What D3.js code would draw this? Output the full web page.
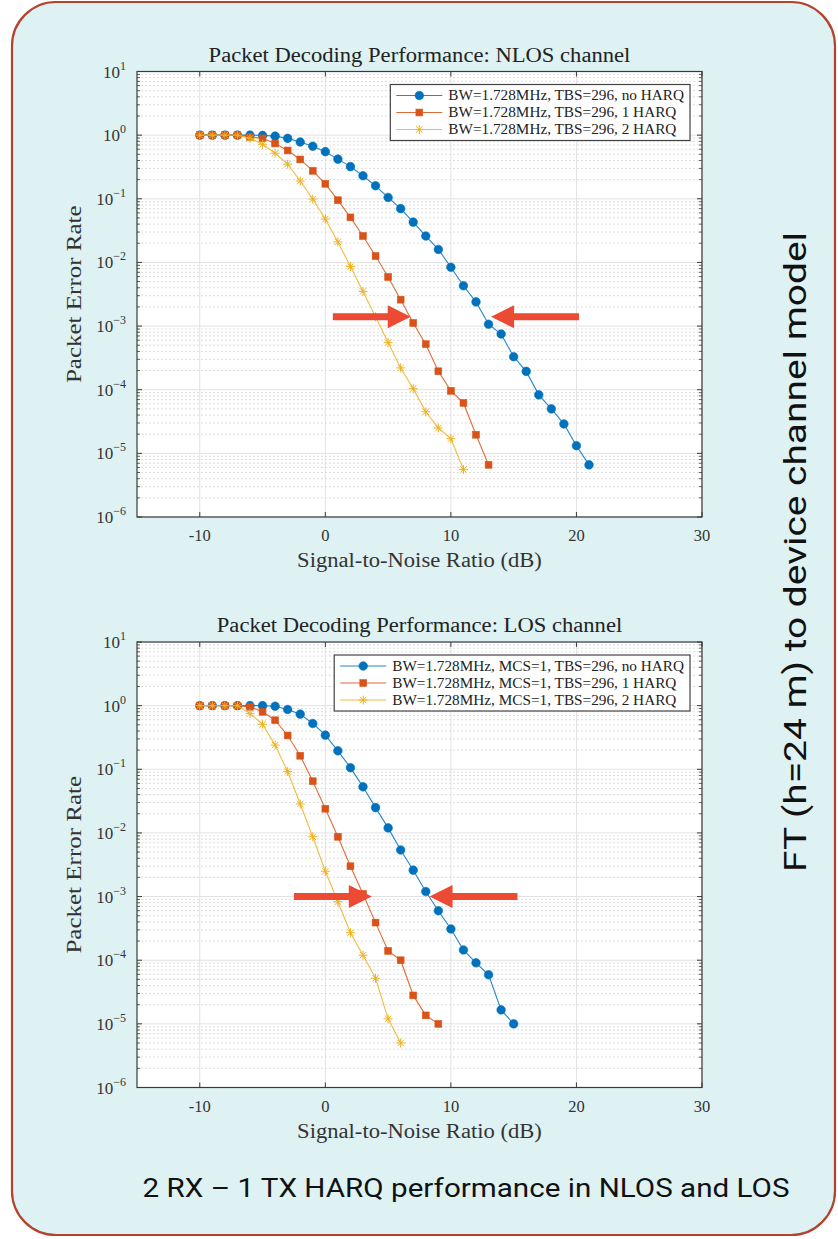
<!DOCTYPE html>
<html>
<head>
<meta charset="utf-8">
<script src="https://cdn.jsdelivr.net/npm/d3@7"></script>
<style>
  body { margin: 0; background: #ffffff; }
  svg { display: block; }
</style>
</head>
<body>
<svg id="chart" width="838" height="1239"></svg>
<script>
// ---- Data: SNR (dB) and packet error rate per configuration ----
const nlosSnrNoHarq = [-10,-9,-8,-7,-6,-5,-4,-3,-2,-1,0,1,2,3,4,5,6,7,8,9,10,11,12,13,14,15,16,17,18,19,20,21];
const nlosPerNoHarq = [1,1,1,1,1,0.99,0.965,0.89,0.78,0.67,0.55,0.42,0.32,0.23,0.16,0.105,0.07,0.043,0.026,0.016,0.0084,0.0043,0.0024,0.00107,0.00075,3.3e-4,1.94e-4,8.3e-5,5.0e-5,2.9e-5,1.32e-5,6.6e-6];
const nlosSnr1Harq = [-10,-9,-8,-7,-6,-5,-4,-3,-2,-1,0,1,2,3,4,5,6,7,8,9,10,11,12,13];
const nlosPer1Harq = [1,1,1,1,0.94,0.89,0.74,0.575,0.415,0.275,0.172,0.095,0.051,0.026,0.0126,0.0059,0.0026,0.00112,5.2e-4,1.95e-4,9.6e-5,6.2e-5,1.96e-5,6.6e-6];
const nlosSnr2Harq = [-10,-9,-8,-7,-6,-5,-4,-3,-2,-1,0,1,2,3,4,5,6,7,8,9,10,11];
const nlosPer2Harq = [1,1,1,1,0.89,0.72,0.52,0.35,0.19,0.099,0.048,0.021,0.0086,0.0035,0.0014,5.5e-4,2.2e-4,1.04e-4,4.5e-5,2.5e-5,1.7e-5,5.6e-6];

const losSnrNoHarq = [-10,-9,-8,-7,-6,-5,-4,-3,-2,-1,0,1,2,3,4,5,6,7,8,9,10,11,12,13,14,15];
const losPerNoHarq = [1,1,1,1,1,1,0.98,0.87,0.735,0.525,0.344,0.195,0.106,0.053,0.025,0.012,0.0054,0.0026,0.0012,6.0e-4,3.1e-4,1.45e-4,9.1e-5,5.9e-5,1.66e-5,1.0e-5];
const losSnr1Harq = [-10,-9,-8,-7,-6,-5,-4,-3,-2,-1,0,1,2,3,4,5,6,7,8,9];
const losPer1Harq = [1,1,1,1,0.96,0.8,0.59,0.34,0.163,0.065,0.024,0.0087,0.003,0.0011,3.9e-4,1.4e-4,1.0e-4,2.8e-5,1.36e-5,1.0e-5];
const losSnr2Harq = [-10,-9,-8,-7,-6,-5,-4,-3,-2,-1,0,1,2,3,4,5,6];
const losPer2Harq = [1,1,1,1,0.75,0.51,0.24,0.092,0.0285,0.0087,0.0025,8.3e-4,2.7e-4,1.2e-4,5.2e-5,1.2e-5,5.0e-6];

// ---- Axis ticks and labels ----
const xTicks = [-10, 0, 10, 20, 30];
const xDomain = [-15, 30];
const yDecades = [1, 0, -1, -2, -3, -4, -5, -6];
const yDomain = [1e-6, 10];

const nlosTitle = "Packet Decoding Performance: NLOS channel";
const losTitle = "Packet Decoding Performance: LOS channel";
const nlosLegend = ["BW=1.728MHz, TBS=296, no HARQ", "BW=1.728MHz, TBS=296, 1 HARQ", "BW=1.728MHz, TBS=296, 2 HARQ"];
const losLegend = ["BW=1.728MHz, MCS=1, TBS=296, no HARQ", "BW=1.728MHz, MCS=1, TBS=296, 1 HARQ", "BW=1.728MHz, MCS=1, TBS=296, 2 HARQ"];
const xLabel = "Signal-to-Noise Ratio (dB)";
const yLabel = "Packet Error Rate";
const sideText = "FT (h=24 m) to device channel model";
const caption = "2 RX \u2013 1 TX HARQ performance in NLOS and LOS";

// Annotation arrows: [tail SNR, tip SNR, PER]
const nlosArrows = [[0.6, 6.8, 1.4e-3], [20.2, 13.2, 1.4e-3]];
const losArrows = [[-2.5, 3.7, 1.0e-3], [15.3, 8.3, 1.0e-3]];

// ---- Styling ----
const seriesColors = ["#0072BD", "#D95319", "#EDB120"];
const seriesMarkers = ["circle", "square", "star"];
const serif = "'Liberation Serif', 'DejaVu Serif', serif";
const sans = "Roboto, 'Open Sans', sans-serif";
// serif glyphs are widened slightly to approximate the LaTeX typeface
const serifStretch = 1.13;

const svg = d3.select("#chart");

function widen(sel, factor) {
  const w = sel.node().getComputedTextLength();
  sel.attr("textLength", w * factor).attr("lengthAdjust", "spacingAndGlyphs");
  return sel;
}

// Rounded card background
svg.append("rect")
  .attr("x", 12).attr("y", 2).attr("width", 823).attr("height", 1233)
  .attr("rx", 44).attr("ry", 44)
  .attr("fill", "#def1f3").attr("stroke", "#b5412f").attr("stroke-width", 2.2);

function markerPath(type) {
  if (type === "star") {
    const r = 4.5, d = r * 0.7071;
    return `M${-r},0L${r},0M0,${-r}L0,${r}M${-d},${-d}L${d},${d}M${-d},${d}L${d},${-d}`;
  }
  return null;
}

function drawPanel(cfg) {
  const left = 137, right = 702;
  const top = cfg.top, bottom = cfg.top + 445.5;
  const x = d3.scaleLinear().domain(xDomain).range([left, right]);
  const y = d3.scaleLog().domain(yDomain).range([bottom, top]);
  const g = svg.append("g");

  g.append("rect").attr("x", left).attr("y", top)
    .attr("width", right - left).attr("height", bottom - top).attr("fill", "#ffffff");

  // minor grid (dotted) at 2..9 x 10^k
  const minorVals = [];
  for (let k = -6; k < 1; k++) for (let m = 2; m <= 9; m++) minorVals.push(m * Math.pow(10, k));
  g.selectAll(".minor").data(minorVals).join("line")
    .attr("x1", left).attr("x2", right)
    .attr("y1", d => y(d)).attr("y2", d => y(d))
    .attr("stroke", "#d4d4d4").attr("stroke-width", 0.8).attr("stroke-dasharray", "2,2");

  // major grid
  const decadeVals = yDecades.map(e => Math.pow(10, e));
  g.selectAll(".majy").data(decadeVals).join("line")
    .attr("x1", left).attr("x2", right)
    .attr("y1", d => y(d)).attr("y2", d => y(d))
    .attr("stroke", "#e2e2e2").attr("stroke-width", 1);
  g.selectAll(".majx").data(xTicks).join("line")
    .attr("x1", d => x(d)).attr("x2", d => x(d))
    .attr("y1", top).attr("y2", bottom)
    .attr("stroke", "#e2e2e2").attr("stroke-width", 1);

  // series
  cfg.series.forEach((s, i) => {
    const pts = s.snr.map((v, j) => [v, s.per[j]]);
    const line = d3.line().x(d => x(d[0])).y(d => y(d[1]));
    g.append("path").datum(pts).attr("d", line)
      .attr("fill", "none").attr("stroke", seriesColors[i]).attr("stroke-width", 1.1)
      .attr("stroke-opacity", 0.85);
    drawMarkers(g, pts.map(d => [x(d[0]), y(d[1])]), i);
  });

  // frame
  g.append("rect").attr("x", left).attr("y", top)
    .attr("width", right - left).attr("height", bottom - top)
    .attr("fill", "none").attr("stroke", "#3a3a3a").attr("stroke-width", 1.2);

  // ticks (inward)
  xTicks.forEach(t => {
    g.append("line").attr("x1", x(t)).attr("x2", x(t)).attr("y1", bottom).attr("y2", bottom - 5)
      .attr("stroke", "#3a3a3a");
    g.append("line").attr("x1", x(t)).attr("x2", x(t)).attr("y1", top).attr("y2", top + 5)
      .attr("stroke", "#3a3a3a");
  });
  decadeVals.forEach(v => {
    g.append("line").attr("x1", left).attr("x2", left + 5).attr("y1", y(v)).attr("y2", y(v)).attr("stroke", "#3a3a3a");
    g.append("line").attr("x1", right).attr("x2", right - 5).attr("y1", y(v)).attr("y2", y(v)).attr("stroke", "#3a3a3a");
  });
  minorVals.forEach(v => {
    g.append("line").attr("x1", left).attr("x2", left + 3).attr("y1", y(v)).attr("y2", y(v)).attr("stroke", "#3a3a3a").attr("stroke-width", 0.8);
    g.append("line").attr("x1", right).attr("x2", right - 3).attr("y1", y(v)).attr("y2", y(v)).attr("stroke", "#3a3a3a").attr("stroke-width", 0.8);
  });

  // tick labels
  g.selectAll(".xl").data(xTicks).join("text")
    .attr("x", d => x(d)).attr("y", bottom + 24)
    .attr("text-anchor", "middle").attr("font-family", serif).attr("font-size", 16.5)
    .attr("fill", "#333").text(d => d);
  yDecades.forEach(e => {
    const t = g.append("text").attr("x", left - 11).attr("y", y(Math.pow(10, e)) + 6)
      .attr("text-anchor", "end").attr("font-family", serif).attr("font-size", 17).attr("fill", "#333");
    t.append("tspan").text("10");
    t.append("tspan").attr("dy", -8).attr("font-size", 12).text(e < 0 ? "\u2212" + (-e) : String(e));
  });

  // titles
  widen(g.append("text").attr("x", (left + right) / 2).attr("y", top - 10)
    .attr("text-anchor", "middle").attr("font-family", serif).attr("font-size", 20)
    .attr("fill", "#222").text(cfg.title), serifStretch);
  widen(g.append("text").attr("x", (left + right) / 2).attr("y", bottom + 50)
    .attr("text-anchor", "middle").attr("font-family", serif).attr("font-size", 20)
    .attr("fill", "#333").text(xLabel), serifStretch);
  widen(g.append("text").attr("transform", `translate(81,${(top + bottom) / 2}) rotate(-90)`)
    .attr("text-anchor", "middle").attr("font-family", serif).attr("font-size", 20)
    .attr("fill", "#333").text(yLabel), 1.25);

  // legend
  const lg = g.append("g");
  const rowH = 17, boxTop = top + 13, boxRight = right - 12;
  const texts = cfg.legend.map((l, i) => widen(lg.append("text")
    .attr("y", boxTop + 11 + i * rowH + 4.5)
    .attr("font-family", serif).attr("font-size", 14).attr("fill", "#222").text(l), 1.09));
  const tw = d3.max(texts, t => +t.attr("textLength"));
  const boxW = tw + 64, boxLeft = boxRight - boxW;
  lg.insert("rect", "text").attr("x", boxLeft).attr("y", boxTop)
    .attr("width", boxW).attr("height", rowH * 3 + 5)
    .attr("fill", "#fff").attr("stroke", "#444").attr("stroke-width", 1.2);
  texts.forEach(t => t.attr("x", boxLeft + 58));
  cfg.legend.forEach((l, i) => {
    const cy = boxTop + 11 + i * rowH;
    lg.append("line").attr("x1", boxLeft + 6).attr("x2", boxLeft + 52).attr("y1", cy).attr("y2", cy)
      .attr("stroke", seriesColors[i]).attr("stroke-width", 1.1).attr("stroke-opacity", 0.85);
    drawMarkers(lg, [[boxLeft + 29, cy]], i);
  });

  // arrows
  cfg.arrows.forEach(a => {
    const x0 = x(a[0]), x1 = x(a[1]), yy = y(a[2]);
    const dir = Math.sign(x1 - x0), head = 23, half = 11.5, shaft = 3.5;
    const xb = x1 - dir * head;
    const p = `M${x0},${yy - shaft}L${xb},${yy - shaft}L${xb},${yy - half}L${x1},${yy}L${xb},${yy + half}L${xb},${yy + shaft}L${x0},${yy + shaft}Z`;
    g.append("path").attr("d", p).attr("fill", "#ec4a32");
  });
}

function drawMarkers(g, pts, i) {
  const c = seriesColors[i];
  if (seriesMarkers[i] === "circle") {
    g.selectAll(null).data(pts).join("circle")
      .attr("cx", d => d[0]).attr("cy", d => d[1]).attr("r", 4.3)
      .attr("fill", c).attr("stroke", c).attr("stroke-width", 0.6);
  } else if (seriesMarkers[i] === "square") {
    g.selectAll(null).data(pts).join("rect")
      .attr("x", d => d[0] - 3.4).attr("y", d => d[1] - 3.4)
      .attr("width", 6.8).attr("height", 6.8).attr("fill", c).attr("stroke", c).attr("stroke-width", 0.6);
  } else {
    g.selectAll(null).data(pts).join("path")
      .attr("transform", d => `translate(${d[0]},${d[1]})`)
      .attr("d", markerPath("star")).attr("fill", "none").attr("stroke", c).attr("stroke-width", 1);
  }
}

drawPanel({
  top: 71.5, title: nlosTitle, legend: nlosLegend, arrows: nlosArrows,
  series: [
    { snr: nlosSnrNoHarq, per: nlosPerNoHarq },
    { snr: nlosSnr1Harq, per: nlosPer1Harq },
    { snr: nlosSnr2Harq, per: nlosPer2Harq }
  ]
});
drawPanel({
  top: 642, title: losTitle, legend: losLegend, arrows: losArrows,
  series: [
    { snr: losSnrNoHarq, per: losPerNoHarq },
    { snr: losSnr1Harq, per: losPer1Harq },
    { snr: losSnr2Harq, per: losPer2Harq }
  ]
});

// side label and caption
svg.append("text").attr("transform", "translate(806,552) rotate(-90)")
  .attr("text-anchor", "middle").attr("font-family", sans)
  .attr("font-size", 32).attr("fill", "#111")
  .attr("textLength", 640).attr("lengthAdjust", "spacingAndGlyphs").text(sideText);
svg.append("text").attr("x", 466).attr("y", 1197)
  .attr("text-anchor", "middle").attr("font-family", sans)
  .attr("font-size", 26).attr("fill", "#111")
  .attr("textLength", 647).attr("lengthAdjust", "spacingAndGlyphs").text(caption);
</script>
</body>
</html>
